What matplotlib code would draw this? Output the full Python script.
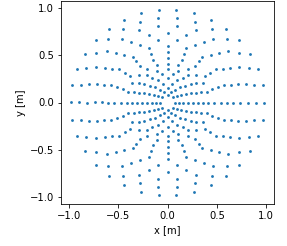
import numpy as np
import matplotlib
matplotlib.use("Agg")
import matplotlib.pyplot as plt

# ring radii (m) read along the +x axis, and number of points on each ring
ring_radius = [0.075, 0.115, 0.156, 0.204, 0.254, 0.305, 0.355, 0.411,
               0.472, 0.537, 0.601, 0.665, 0.736, 0.817, 0.898, 0.980]
ring_count = [8, 10, 12, 14, 16, 18, 20, 24,
              20, 20, 20, 22, 24, 26, 30, 34]

xs, ys = [], []
for r, n in zip(ring_radius, ring_count):
    phi = 2 * np.pi * np.arange(n) / n
    xs.append(r * np.cos(phi))
    ys.append(r * np.sin(phi))
x = np.concatenate(xs)
y = np.concatenate(ys)

fig = plt.figure(figsize=(287 / 72, 246 / 72), dpi=72)
ax = fig.add_axes([61 / 287, 42 / 246, 213 / 287, 203 / 246])
ax.scatter(x, y, s=8, color="tab:blue", linewidths=0)
ax.set_xlabel("x [m]")
ax.set_ylabel("y [m]")
ax.set_xticks([-1.0, -0.5, 0.0, 0.5, 1.0])
ax.set_yticks([-1.0, -0.5, 0.0, 0.5, 1.0])
fig.savefig("out.png", dpi=72)
